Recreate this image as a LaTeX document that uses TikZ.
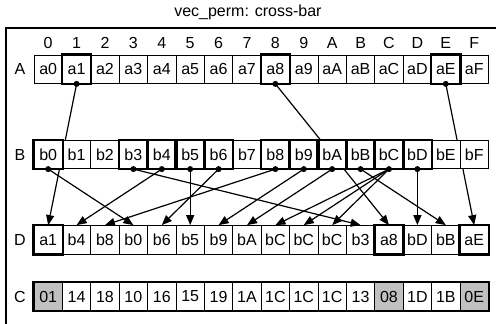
\documentclass[tikz,border=0pt]{standalone}
\usepackage{fontspec}
\setmainfont{Liberation Sans}
\usetikzlibrary{arrows.meta}
\definecolor{shade}{RGB}{192,192,192}
\tikzset{
  cell/.style={draw, fill=white, line width=0.8pt, minimum width=28.4pt, minimum height=28.4pt, inner sep=0pt},
  hl/.style={line width=2.4pt},
  wire/.style={line width=1.2pt, -{Triangle[length=10pt,width=8pt]}},
}
\begin{document}
\begin{tikzpicture}[x=28.4pt,y=-28.4pt,font=\fontsize{16}{19}\selectfont]
  \useasboundingbox (0,0) rectangle (17.465,11.408);
  \draw[line width=1.6pt] (0.211,11.408) -- (0.211,0.986) -- (17.465,0.986);
  \node (title) at (8.73,0.42) {vec\_perm: cross-bar};
  \foreach \c [count=\i from 0] in {0,1,2,3,4,5,6,7,8,9,A,B,C,D,E,F}
    \node (col\i) at (\i+1.697,1.51) {\c};
  \draw
    (0.7,2.44) node (rowA){A}
    (0.7,5.44) node (rowB){B}
    (0.7,8.44) node (rowD){D}
    (0.7,10.44) node (rowC){C};
  \foreach \t [count=\i from 0] in {a1,b4,b8,b0,b6,b5,b9,bA,bC,bC,bC,b3,a8,bD,bB,aE}
    \node[cell] (d\i) at (\i+1.697,8.44) {\t};
  \foreach \c [count=\i from 0] in {0,1,2,3,4,5,6,7,8,9,A,B,C,D,E,F}
    \node[cell] (a\i) at (\i+1.697,2.44) {a\c};
  \begin{scope}[wire]
    \draw (a1.south) to (d0.north);
    \draw (a8.south) to (d12.north);
    \draw (a14.south) to (d15.north);
  \end{scope}
  \foreach \c [count=\i from 0] in {0,1,2,3,4,5,6,7,8,9,A,B,C,D,E,F}
    \node[cell] (b\i) at (\i+1.697,5.44) {b\c};
  \foreach \s/\t in {4/1,8/2,0/3,6/4,5/5,9/6,10/7,12/8,12/9,12/10,3/11,13/13,11/14}
    \draw[wire] (b\s.south) to (d\t.north);
  \foreach \t/\f [count=\i from 0] in {01/shade,14/white,18/white,10/white,16/white,15/white,19/white,1A/white,1C/white,1C/white,1C/white,13/white,08/shade,1D/white,1B/white,0E/shade}
    \node[cell,fill=\f] (c\i) at (\i+1.697,10.44) {\t};
  \draw[hl] (c0.north west) rectangle (c15.south east);
  \foreach \n in {a1,a8,a14,b0,b3,b4,b5,b6,b8,b9,b10,b11,b12,b13,d0,d12,d15}
    \draw[hl] (\n.north west) rectangle (\n.south east);
  \foreach \n in {a1,a8,a14,b0,b3,b4,b5,b6,b8,b9,b10,b11,b12,b13}
    \fill (\n.south) circle (3pt);
\end{tikzpicture}
\end{document}
